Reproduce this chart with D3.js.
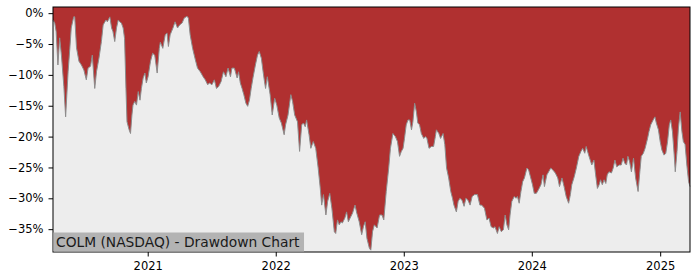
<!DOCTYPE html>
<html>
<head>
<meta charset="utf-8">
<script src="https://cdn.jsdelivr.net/npm/d3@7"></script>
<style>
  body { margin: 0; background: #ffffff; }
  #drawdown-chart text { font-family: "DejaVu Sans", sans-serif; }
</style>
</head>
<body>
<div id="drawdown-chart"></div>
<script>
const chartTitle = "COLM (NASDAQ) - Drawdown Chart";
const startDate = "2020-04-06";

// days since startDate
const dayOffsets = [
    0,5,9,14,19,24,31,36,43,48,52,59,62,67,74,81,88,95,100,107,
    112,119,124,131,138,143,151,155,162,167,171,176,181,186,190,195,200,204,208,211,
    217,221,225,228,233,238,243,248,252,257,262,266,271,278,284,290,297,303,306,313,
    320,325,329,334,342,348,355,361,368,374,382,386,391,398,406,412,420,428,434,441,
    446,453,460,466,472,479,486,493,499,506,510,517,525,529,534,539,544,550,555,560,
    565,570,577,583,588,594,599,603,606,611,619,625,632,638,645,651,659,663,670,678,
    683,689,697,703,709,714,719,723,730,735,742,749,756,762,766,771,778,783,789,795,
    802,806,811,816,821,825,832,837,842,847,854,861,866,873,880,885,890,895,902,906,
    911,916,924,931,938,943,950,957,962,969,976,982,988,993,998,1002,1007,1012,1017,1022,
    1026,1031,1036,1040,1045,1050,1057,1062,1066,1072,1079,1085,1090,1093,1100,1105,1112,1117,1122,1128,
    1134,1139,1143,1150,1155,1160,1166,1172,1177,1183,1189,1195,1202,1210,1217,1222,1230,1237,1243,1249,
    1256,1260,1267,1272,1278,1284,1289,1294,1299,1303,1308,1315,1320,1324,1329,1334,1339,1344,1351,1356,
    1362,1367,1372,1378,1384,1391,1397,1401,1408,1413,1419,1425,1432,1439,1444,1451,1457,1463,1470,1475,
    1479,1486,1492,1499,1505,1510,1516,1520,1527,1536,1542,1547,1552,1557,1561,1566,1571,1576,1580,1585,
    1592,1597,1602,1607,1614,1620,1625,1630,1635,1639,1644,1649,1655,1661,1668,1673,1677,1683,1688,1695,
    1699,1704,1711,1716,1720,1726,1731,1736,1742,1747,1752,1757,1761,1766,1771,1774,1779,1783,1788,1793,
    1797,1802,1807,1812,1816
];

// drawdown in percent
const drawdown = [
    -1.1,-1.6,-3.0,-8.4,-4.0,-6.8,-11.9,-16.8,-9.5,-5.7,-2.4,-0.6,-0.6,-5.6,-7.8,-8.4,-9.2,-10.8,-8.9,-8.6,
    -6.8,-12.2,-9.5,-7.3,-4.6,-1.9,-1.1,-1.4,-0.6,-2.4,-3.0,-4.6,-2.4,-1.1,-1.4,-1.6,-2.4,-4.1,-12.2,-17.6,
    -18.9,-19.5,-16.5,-14.9,-14.3,-14.9,-12.7,-14.1,-12.2,-10.5,-9.7,-11.3,-10.3,-7.8,-6.5,-6.8,-9.7,-5.7,-4.7,-5.7,
    -3.5,-3.2,-5.4,-3.5,-2.4,-1.4,-2.4,-1.9,-1.6,-0.8,-0.5,-0.8,-3.5,-5.7,-7.6,-8.9,-9.5,-10.3,-10.8,-11.6,
    -11.3,-11.6,-10.8,-12.2,-11.9,-11.1,-9.5,-10.3,-8.9,-10.3,-8.9,-8.9,-10.5,-9.5,-11.3,-12.2,-13.2,-14.6,-15.1,-14.1,
    -12.2,-10.5,-8.4,-6.8,-6.2,-7.3,-9.5,-11.1,-12.2,-10.3,-13.2,-16.5,-13.8,-14.9,-17.0,-17.8,-19.7,-18.1,-16.5,-13.2,
    -14.3,-16.5,-17.6,-22.4,-18.1,-17.8,-18.4,-17.3,-19.7,-21.9,-20.8,-21.9,-25.1,-28.4,-31.1,-29.4,-32.7,-30.5,-29.2,-31.6,
    -35.4,-35.7,-33.5,-34.3,-33.8,-34.0,-33.2,-32.2,-33.8,-33.2,-32.4,-31.1,-32.4,-33.8,-35.9,-34.6,-33.8,-36.5,-38.1,-38.4,
    -35.4,-34.3,-34.8,-32.7,-32.7,-33.5,-28.9,-25.1,-21.9,-19.5,-20.0,-20.8,-23.2,-22.4,-21.9,-20.3,-18.1,-17.3,-17.3,-18.9,
    -17.6,-14.6,-16.0,-17.8,-18.1,-19.5,-20.3,-20.0,-20.3,-21.9,-21.6,-21.6,-20.0,-18.9,-19.5,-20.3,-19.5,-21.3,-25.1,-26.7,
    -28.9,-30.0,-31.1,-32.2,-30.5,-30.0,-30.3,-31.3,-30.0,-30.3,-31.1,-29.7,-29.4,-29.4,-31.1,-31.1,-31.6,-33.5,-33.2,-34.6,
    -34.8,-34.6,-35.7,-34.6,-35.4,-35.1,-32.7,-34.3,-35.1,-32.7,-30.5,-29.7,-30.0,-29.7,-30.8,-28.9,-27.3,-26.7,-25.1,-25.4,
    -26.7,-27.8,-29.2,-29.2,-28.6,-27.8,-26.2,-28.1,-26.2,-25.7,-25.1,-25.4,-25.9,-26.7,-28.1,-26.7,-28.1,-29.7,-30.8,-29.4,
    -27.8,-26.5,-25.1,-23.2,-22.4,-21.9,-22.7,-21.6,-23.0,-24.6,-23.8,-26.2,-28.4,-27.8,-27.0,-27.8,-27.0,-27.6,-26.2,-25.7,
    -25.9,-25.1,-23.8,-24.9,-24.6,-24.6,-23.5,-24.3,-24.6,-23.2,-24.1,-25.7,-23.5,-26.7,-28.9,-25.7,-23.2,-22.7,-21.9,-20.3,
    -19.2,-18.1,-17.3,-16.8,-17.8,-18.9,-20.8,-22.2,-23.0,-22.7,-20.8,-18.1,-17.3,-19.2,-23.0,-25.7,-22.4,-18.6,-16.0,-19.2,
    -20.8,-21.3,-24.6,-27.3,-28.1
];

const yTickValues = [0, -5, -10, -15, -20, -25, -30, -35];
const xTickYears = [2021, 2022, 2023, 2024, 2025];

class DrawdownChart {
    constructor(data) {
        this.margin = { top: 7, right: 10, bottom: 28, left: 53 };
        this.width = 700 - this.margin.left - this.margin.right;
        this.height = 280 - this.margin.top - this.margin.bottom;
        this.data = data;

        this.svg = d3.select("#drawdown-chart").append("svg")
            .attr("width", this.width + this.margin.left + this.margin.right)
            .attr("height", this.height + this.margin.top + this.margin.bottom)
            .append("g")
            .attr("transform", `translate(${this.margin.left}, ${this.margin.top})`);
    }

    initialize() {
        this.renderPlot();
    }

    renderPlot() {
        const x = d3.scaleTime()
            .domain(d3.extent(this.data, d => d.date))
            .range([0, this.width]);
        const y = d3.scaleLinear()
            .domain([-38.7, 1.0])
            .range([this.height, 0]);

        // red is the background, the gray fills below the curve
        this.svg.append("rect")
            .attr("width", this.width)
            .attr("height", this.height)
            .attr("fill", "#b03030");

        const area = d3.area()
            .x(d => x(d.date))
            .y0(this.height)
            .y1(d => y(d.value));

        this.svg.append("path")
            .datum(this.data)
            .attr("d", area)
            .attr("fill", "#ededed");

        const line = d3.line()
            .x(d => x(d.date))
            .y(d => y(d.value));

        this.svg.append("path")
            .datum(this.data)
            .attr("d", line)
            .attr("fill", "none")
            .attr("stroke", "#8c8c8c")
            .attr("stroke-width", 1);

        const yAxis = this.svg.append("g")
            .call(d3.axisLeft(y)
                .tickValues(yTickValues)
                .tickSize(4.5)
                .tickPadding(5)
                .tickFormat(d => d === 0 ? "0%" : "\u2212" + Math.abs(d) + "%"));

        const xAxis = this.svg.append("g")
            .attr("transform", `translate(0, ${this.height})`)
            .call(d3.axisBottom(x)
                .tickValues(xTickYears.map(yr => new Date(yr, 0, 1)))
                .tickSize(4.5)
                .tickPadding(5)
                .tickFormat(d3.timeFormat("%Y")));

        [yAxis, xAxis].forEach(a => {
            a.select(".domain").remove();
            a.selectAll("text").attr("font-size", "11.5px").attr("fill", "#000");
            a.selectAll("line").attr("stroke", "#000");
        });

        this.svg.append("rect")
            .attr("width", this.width)
            .attr("height", this.height)
            .attr("fill", "none")
            .attr("stroke", "#000")
            .attr("stroke-width", 1);

        this.renderLabel();
    }

    renderLabel() {
        const labelGroup = this.svg.append("g")
            .attr("transform", `translate(0, ${this.height})`);

        const box = labelGroup.append("rect")
            .attr("x", 0.5)
            .attr("y", -19.5)
            .attr("height", 19)
            .attr("fill", "#b3b3b3");

        const label = labelGroup.append("text")
            .attr("x", 3)
            .attr("y", -5.5)
            .attr("font-size", "13.8px")
            .attr("fill", "#1a1a1a")
            .text(chartTitle);

        box.attr("width", label.node().getComputedTextLength() + 7);
    }
}

const parseDate = d3.timeParse("%Y-%m-%d");
const base = parseDate(startDate);
const series = dayOffsets.map((off, i) => ({
    date: d3.timeDay.offset(base, off),
    value: drawdown[i]
}));

const chart = new DrawdownChart(series);
chart.initialize();
</script>
</body>
</html>
